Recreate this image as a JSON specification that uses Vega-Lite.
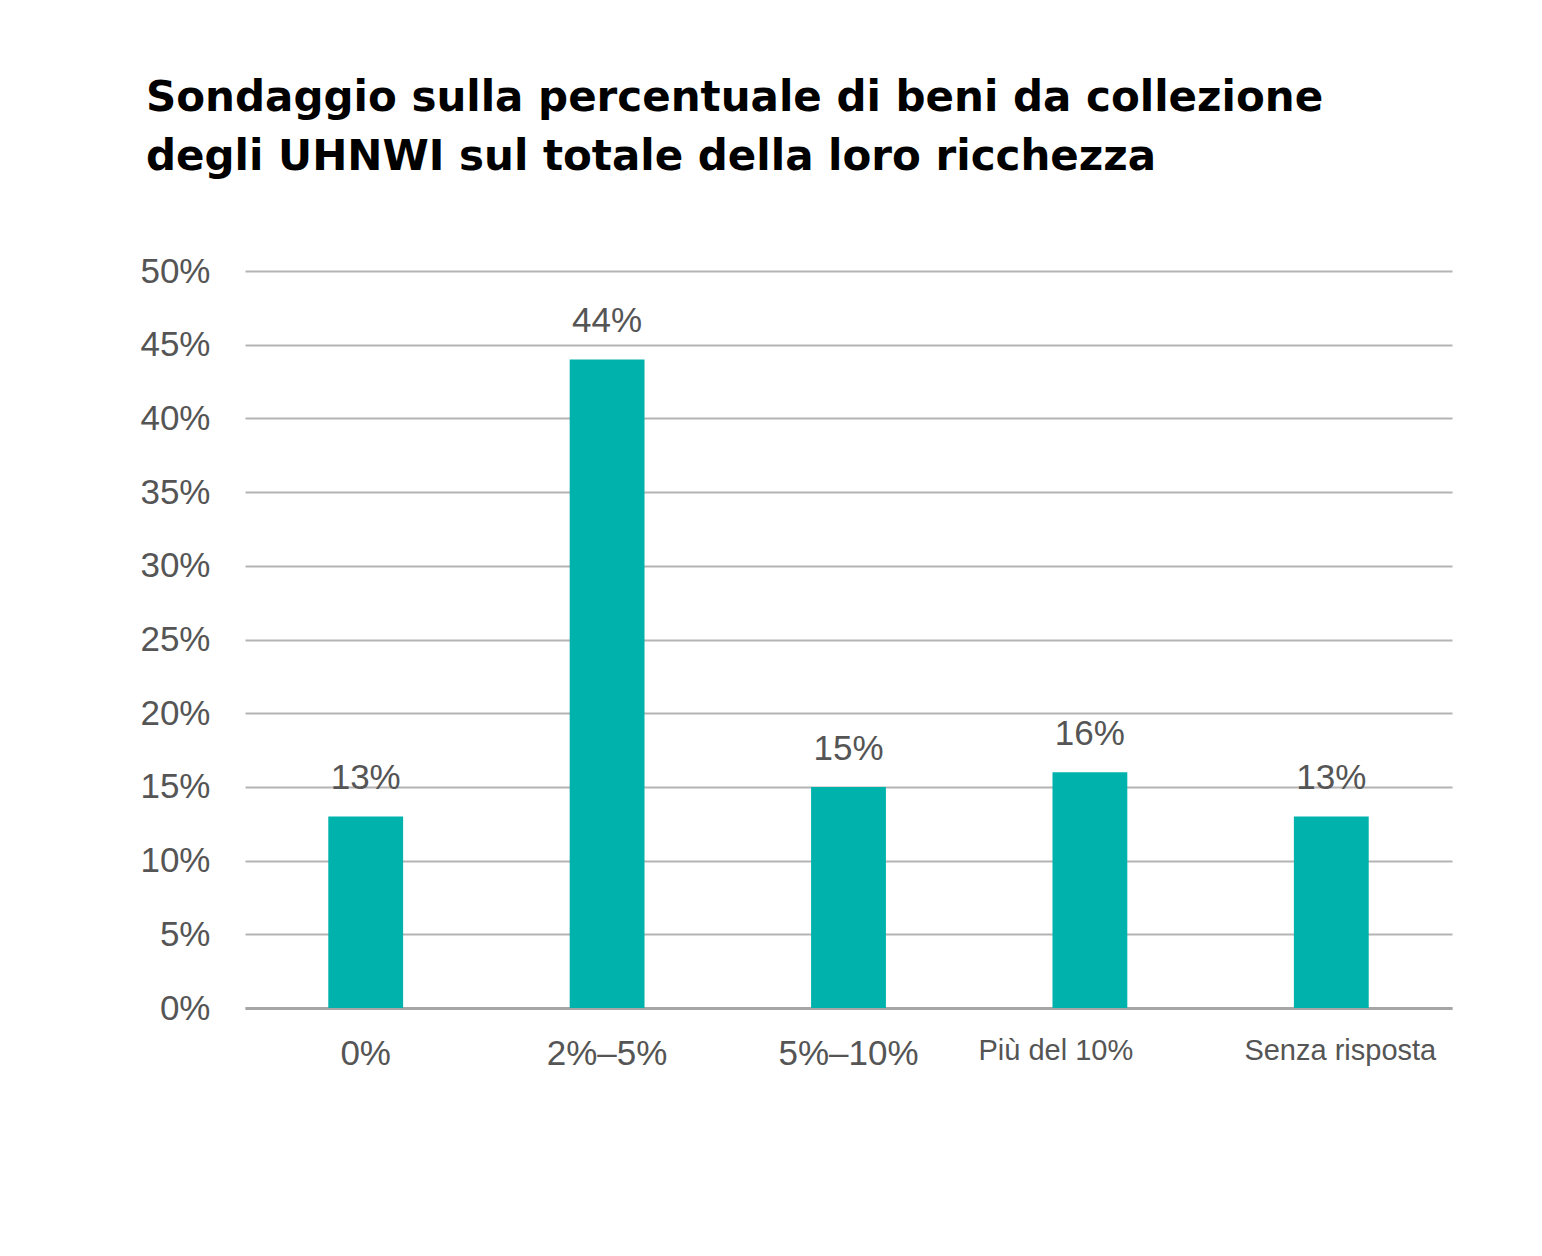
{
  "$schema": "https://vega.github.io/schema/vega-lite/v6.json",
  "autosize": {"type": "none"},
  "width": 1207,
  "height": 737,
  "padding": {"left": 245, "top": 271, "right": 90, "bottom": 248},
  "background": "white",
  "title": {
    "text": ["Sondaggio sulla percentuale di beni da collezione", "degli UHNWI sul totale della loro ricchezza"],
    "anchor": "start",
    "frame": "group",
    "dx": -99,
    "font": "DejaVu Sans",
    "fontSize": 42,
    "fontWeight": "bold",
    "color": "black",
    "lineHeight": 59,
    "offset": 75
  },
  "data": {
    "values": [
      {"categoria": "0%", "valore": 13},
      {"categoria": "2%–5%", "valore": 44},
      {"categoria": "5%–10%", "valore": 15},
      {"categoria": "Più del 10%", "valore": 16},
      {"categoria": "Senza risposta", "valore": 13}
    ]
  },
  "encoding": {
    "x": {
      "field": "categoria",
      "type": "nominal",
      "sort": null,
      "scale": {"paddingInner": 0.69, "paddingOuter": 0.345},
      "axis": {
        "title": null,
        "labelAngle": 0,
        "ticks": false,
        "domain": true,
        "domainColor": "#a6a6a6",
        "domainWidth": 3,
        "labelFont": "Liberation Sans",
        "labelFontSize": {"condition": {"test": "datum.value == 'Più del 10%' || datum.value == 'Senza risposta'", "value": 29}, "value": 35},
        "labelOffset": {"condition": [{"test": "datum.value == 'Più del 10%'", "value": -34}, {"test": "datum.value == 'Senza risposta'", "value": 9}], "value": 0},
        "labelColor": "#555555",
        "labelPadding": 28,
        "labelLimit": 0,
        "labelOverlap": false,
        "grid": false
      }
    },
    "y": {
      "field": "valore",
      "type": "quantitative",
      "scale": {"domain": [0, 50], "nice": false},
      "axis": {
        "title": null,
        "values": [0, 5, 10, 15, 20, 25, 30, 35, 40, 45, 50],
        "labelExpr": "datum.value + '%'",
        "ticks": false,
        "domain": false,
        "labelFont": "Liberation Sans",
        "labelFontSize": 35,
        "labelColor": "#555555",
        "labelPadding": 35,
        "grid": true,
        "gridColor": "#b4b4b4",
        "gridWidth": 2
      }
    }
  },
  "layer": [
    {"mark": {"type": "bar", "color": "#00b2ac"}},
    {
      "mark": {"type": "text", "baseline": "bottom", "dy": -20, "font": "Liberation Sans", "fontSize": 35, "color": "#555555", "text": {"expr": "datum.valore + '%'"}}
    }
  ],
  "config": {"view": {"stroke": null}}
}
